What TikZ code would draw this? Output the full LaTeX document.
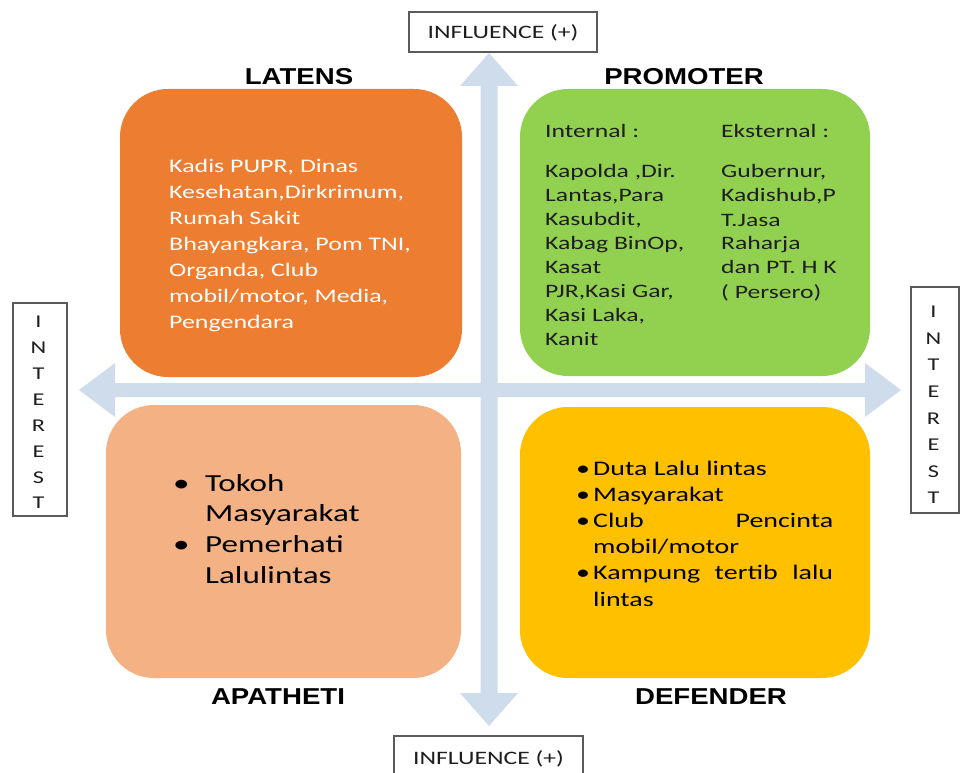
\documentclass[tikz,border=0pt]{standalone}
\usepackage{fontspec}
\newfontfamily\bodyfont[FakeStretch=1.35]{Carlito}
\newfontfamily\labfont[FakeStretch=1.2]{Liberation Sans}
\definecolor{arrowc}{RGB}{207,220,236}
\definecolor{latensc}{RGB}{237,125,49}
\definecolor{promoterc}{RGB}{146,208,80}
\definecolor{apathetic}{RGB}{244,177,131}
\definecolor{defenderc}{RGB}{255,192,0}
\definecolor{framec}{RGB}{90,90,90}
\definecolor{textc}{RGB}{30,30,30}
\begin{document}
\begin{tikzpicture}[x=1pt,y=-1pt,
  quad/.style={rectangle, rounded corners=48pt, inner sep=0pt, draw=none},
  lbl/.style={font={\labfont\bfseries\fontsize{23}{27}\selectfont}, anchor=base, inner sep=0pt, text=black},
  axbox/.style={rectangle, draw=framec, line width=1.2pt, fill=white, inner sep=0pt},
  txt/.style={anchor=base west, inner sep=0pt}]
\clip (0,0) rectangle (961,773);
\fill[white] (0,0) rectangle (961,773);

% axes arrows
\fill[arrowc] (489,53) -- (518,86) -- (497.5,86) -- (497.5,693) -- (518,693) -- (489,726)
  -- (460,693) -- (480.5,693) -- (480.5,86) -- (460,86) -- cycle;
\fill[arrowc] (79,390) -- (115,363) -- (115,383) -- (865,383) -- (865,363) -- (901,390)
  -- (865,417) -- (865,397) -- (115,397) -- (115,417) -- cycle;

% axis boxes
\node[axbox, minimum width=188pt, minimum height=40pt] (inftop) at (503,32) {};
\node[font={\bodyfont\fontsize{19}{22}\selectfont}, text=textc, inner sep=0pt] (inftoptxt) at (503,32.5) {INFLUENCE (+)};
\node[axbox, minimum width=189pt, minimum height=60pt] (infbot) at (488.5,766) {};
\node[font={\bodyfont\fontsize{19}{22}\selectfont}, text=textc, inner sep=0pt] (infbottxt) at (488.5,758.5) {INFLUENCE (+)};

\node[axbox, minimum width=54pt, minimum height=213pt] (intleft) at (40,409.5) {};
\node[font={\bodyfont\fontsize{18}{25.9}\selectfont}, text=textc, align=center, inner sep=0pt] (intlefttxt) at (38.5,412.5) {I\\N\\T\\E\\R\\E\\S\\T};
\node[axbox, minimum width=48pt, minimum height=226pt] (intright) at (935,400) {};
\node[font={\bodyfont\fontsize{18}{26.6}\selectfont}, text=textc, align=center, inner sep=0pt] (intrighttxt) at (933.5,405) {I\\N\\T\\E\\R\\E\\S\\T};

% quadrants
\node[quad, fill=latensc, minimum width=342pt, minimum height=288pt] (latens) at (291,233) {};
\node[quad, fill=promoterc, minimum width=350pt, minimum height=287pt] (promoter) at (695,232.5) {};
\node[quad, fill=apathetic, minimum width=355pt, minimum height=273pt] (apatheti) at (283.5,541.5) {};
\node[quad, fill=defenderc, minimum width=350pt, minimum height=271pt] (defender) at (695,542.5) {};

% labels
\node[lbl] (latenslbl) at (299,85) {LATENS};
\node[lbl] (promoterlbl) at (684,85) {PROMOTER};
\node[lbl] (apathetilbl) at (278,704) {APATHETI};
\node[lbl] (defenderlbl) at (711,704) {DEFENDER};

% LATENS text
\node[txt, text=white] (latenstxt) at (169,172) {\parbox[t]{290pt}{\bodyfont\fontsize{19.2}{26}\selectfont
Kadis PUPR, Dinas\\
Kesehatan,Dirkrimum,\\
Rumah Sakit\\
Bhayangkara, Pom TNI,\\
Organda, Club\\
mobil/motor, Media,\\
Pengendara}};

% PROMOTER text
\node[txt, text=textc] (promhead1) at (545,138) {\bodyfont\fontsize{19}{24}\selectfont Internal :};
\node[txt, text=textc] (promhead2) at (721,138) {\bodyfont\fontsize{19}{24}\selectfont Eksternal :};
\node[txt, text=textc] (promint) at (545,178) {\parbox[t]{170pt}{\bodyfont\fontsize{19}{23.9}\selectfont
Kapolda ,Dir.\\
Lantas,Para\\
Kasubdit,\\
Kabag BinOp,\\
Kasat\\
PJR,Kasi Gar,\\
Kasi Laka,\\
Kanit}};
\node[txt, text=textc] (promext) at (721,178) {\parbox[t]{150pt}{\bodyfont\fontsize{19}{24}\selectfont
Gubernur,\\
Kadishub,P\\
T.Jasa\\
Raharja\\
dan PT. H K\\
( Persero)}};

% APATHETI text
\node[txt, text=black] (apattxt) at (173,491) {\parbox[t]{280pt}{\bodyfont\fontsize{24.5}{30.7}\selectfont
\makebox[32pt][l]{•}Tokoh\\
\hspace*{32pt}Masyarakat\\
\makebox[32pt][l]{•}Pemerhati\\
\hspace*{32pt}Lalulintas}};

% DEFENDER text
\node[txt, text=black] (deftxt) at (576,475) {\parbox[t]{280pt}{\bodyfont\fontsize{20.7}{26.2}\selectfont
\makebox[17pt][l]{•}Duta Lalu lintas\\
\makebox[17pt][l]{•}Masyarakat\\
\makebox[17pt][l]{•}\makebox[240pt][s]{Club Pencinta}\\
\hspace*{17pt}mobil/motor\\
\makebox[17pt][l]{•}\makebox[240pt][s]{Kampung tertib lalu}\\
\hspace*{17pt}lintas}};
\end{tikzpicture}
\end{document}
